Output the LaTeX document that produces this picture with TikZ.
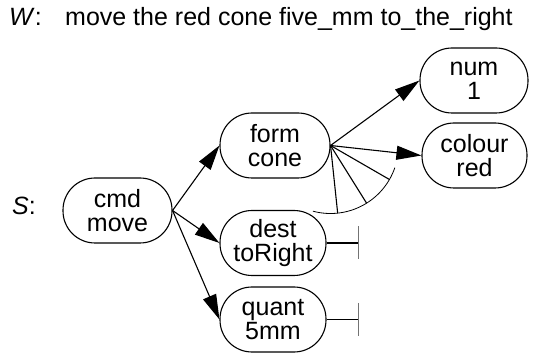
\documentclass[tikz,border=0pt]{standalone}
\usepackage{fontspec}
\setmainfont{Liberation Sans}
\usetikzlibrary{arrows.meta}
\tikzset{
  feat/.style={draw, line width=1.1pt, rounded corners=32pt, minimum height=65pt,
    inner sep=0pt, align=center, font=\fontsize{25}{24}\selectfont},
  lbl/.style={inner sep=0pt, anchor=base west, font=\fontsize{25}{30}\selectfont},
  link/.style={line width=1.1pt, -{Triangle[length=25pt, width=14pt]}},
  fan/.style={line width=1.1pt},
  stub/.style={line width=1.1pt, -{Bar[width=33pt, line width=0.7pt, color=black!55]}}
}
\begin{document}
\begin{tikzpicture}[x=1pt, y=1pt]
  \useasboundingbox (0,0) rectangle (539,354);

  % word string and structure labels
  \node[lbl] (w) at (9,328) {\textit{W}:};
  \node[lbl] (words) at (65,328) {move the red cone five\_mm to\_the\_right};
  \node[lbl] (s) at (12,139) {\textit{S}:};

  % feature nodes
  \node[feat, minimum width=109pt] (cmd)    at (117.5,143.5) {cmd\\move};
  \node[feat, minimum width=110pt] (form)   at (275,208.5)   {form\\cone};
  \node[feat, minimum width=108pt] (num)    at (474,273.5)   {num\\1};
  \node[feat, minimum width=105pt] (colour) at (474.5,198.5) {colour\\red};
  \node[feat, minimum width=106pt] (dest)   at (273,111)     {dest\\toRight};
  \node[feat, minimum width=106pt] (quant)  at (273,34.5)    {quant\\5mm};

  % arrows from the command
  \draw[link] (cmd.east) -- (form.west);
  \draw[link] (cmd.east) -- (dest.west);
  \draw[link] (cmd.east) -- (quant.west);

  % arrows from the form node
  \draw[link] (form.east) -- (num.west);
  \draw[link] (form.east) -- (colour.west);

  % open fan of further branches, closed by an arc
  \coordinate (f1) at ([shift={(-30:68)}]form.east);
  \coordinate (f2) at ([shift={(-58:68)}]form.east);
  \coordinate (f3) at ([shift={(-84:68)}]form.east);
  \draw[fan] (form.east) -- (f1);
  \draw[fan] (form.east) -- (f2);
  \draw[fan] (form.east) -- (f3);
  \draw[line width=0.8pt] ([shift={(-105:68)}]form.east) arc[start angle=-105, end angle=-19, radius=68];

  % terminated stubs
  \coordinate (dend) at ([xshift=32pt]dest.east);
  \coordinate (qend) at ([xshift=32pt]quant.east);
  \draw[stub] (dest.east) -- (dend);
  \draw[stub] (quant.east) -- (qend);
\end{tikzpicture}
\end{document}
